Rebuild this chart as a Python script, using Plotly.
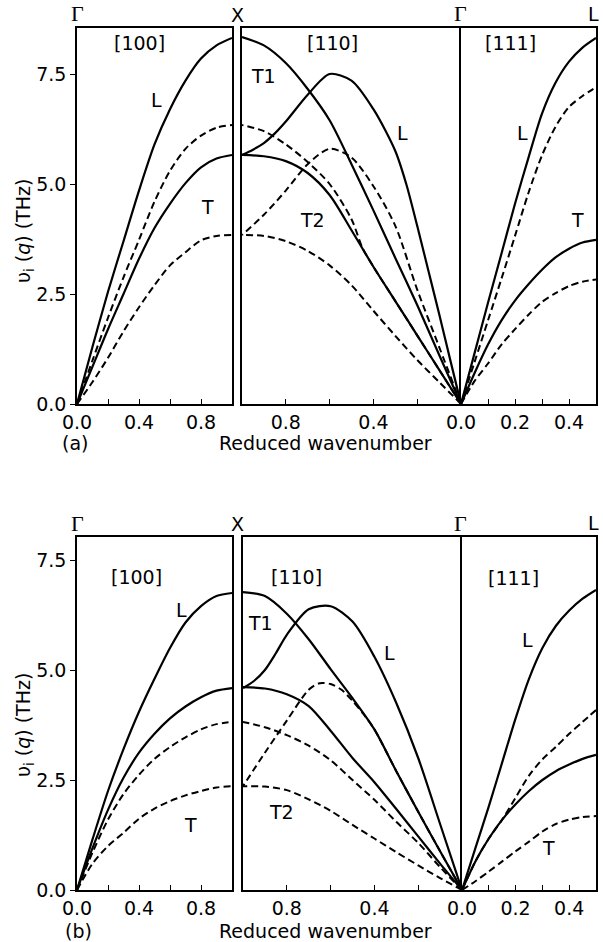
import plotly.graph_objects as go

# ---------------- data ----------------
Q10 = [0.0, 0.1, 0.2, 0.3, 0.4, 0.5, 0.6, 0.7, 0.8, 0.9, 1.0]
Q5 = [0.0, 0.05, 0.1, 0.15, 0.2, 0.25, 0.3, 0.35, 0.4, 0.45, 0.5]

# panel (a) [100]
a100_L = [0, 1.3, 2.55, 3.7, 4.85, 5.9, 6.7, 7.35, 7.85, 8.15, 8.32]
a100_Ld = [0, 0.99, 1.96, 2.88, 3.73, 4.6, 5.3, 5.8, 6.1, 6.28, 6.34]
a100_T = [0, 0.85, 1.7, 2.5, 3.3, 4.0, 4.55, 5.02, 5.38, 5.58, 5.66]
a100_Td = [0, 0.5, 1.05, 1.65, 2.2, 2.7, 3.15, 3.45, 3.72, 3.82, 3.84]
# panel (a) [110]
a110_T1 = [0, 1.12, 2.25, 3.32, 4.4, 5.45, 6.45, 7.16, 7.75, 8.15, 8.34]
a110_L_q = [0, 0.05, 0.1, 0.15, 0.2, 0.25, 0.3, 0.4, 0.5, 0.6, 0.7, 0.8, 0.85, 0.9, 0.95, 1.0]
a110_L = [0, 1.02, 2.05, 3.05, 4.05, 5.0, 5.75, 6.7, 7.35, 7.5, 7.03, 6.42, 6.15, 5.93, 5.78, 5.66]
a110_T2 = [0, 0.78, 1.56, 2.34, 3.12, 3.95, 4.75, 5.25, 5.52, 5.63, 5.66]
a110_T1d_q = [0, 0.1, 0.2, 0.3, 0.4, 0.45, 0.5, 0.6, 0.7, 0.8, 0.9, 1.0]
a110_T1d = [0, 0.78, 1.56, 2.34, 3.12, 3.55, 4.2, 5.0, 5.5, 5.9, 6.2, 6.34]
a110_Ld = [0, 1.3, 2.6, 4.05, 4.95, 5.6, 5.8, 5.45, 4.85, 4.3, 3.84]
a110_T2d = [0, 0.5, 1.0, 1.55, 2.12, 2.7, 3.15, 3.48, 3.7, 3.82, 3.84]
# panel (a) [111]
a111_L = [0, 1.15, 2.3, 3.42, 4.55, 5.6, 6.6, 7.3, 7.78, 8.1, 8.32]
a111_Ld = [0, 0.95, 1.9, 2.85, 3.82, 4.8, 5.65, 6.3, 6.75, 7.0, 7.2]
a111_T = [0, 0.7, 1.35, 1.9, 2.35, 2.72, 3.05, 3.33, 3.53, 3.67, 3.73]
a111_Td = [0, 0.52, 0.92, 1.35, 1.7, 2.03, 2.32, 2.52, 2.68, 2.78, 2.83]

# panel (b) [100]
b100_L = [0, 1.15, 2.25, 3.2, 4.05, 4.8, 5.5, 6.08, 6.45, 6.68, 6.75]
b100_Ld = [0, 0.85, 1.6, 2.18, 2.62, 2.98, 3.25, 3.47, 3.65, 3.77, 3.82]
b100_T = [0, 0.95, 1.82, 2.55, 3.12, 3.55, 3.9, 4.17, 4.38, 4.53, 4.59]
b100_Td = [0, 0.6, 1.0, 1.3, 1.62, 1.85, 2.02, 2.15, 2.25, 2.33, 2.36]
# panel (b) [110]
b110_T1 = [0, 0.88, 1.78, 2.7, 3.65, 4.36, 5.02, 5.7, 6.28, 6.68, 6.77]
b110_L_q = [0, 0.1, 0.2, 0.3, 0.4, 0.5, 0.6, 0.7, 0.8, 0.85, 0.9, 0.95, 1.0]
b110_L = [0, 1.5, 3.0, 4.25, 5.3, 6.1, 6.45, 6.38, 5.8, 5.38, 5.0, 4.75, 4.59]
b110_T2 = [0, 0.6, 1.22, 1.84, 2.45, 3.0, 3.62, 4.18, 4.45, 4.58, 4.61]
b110_T1d = [0, 0.52, 1.07, 1.55, 2.05, 2.5, 2.95, 3.28, 3.52, 3.7, 3.82]
b110_Ld_q = [0, 0.1, 0.2, 0.3, 0.4, 0.45, 0.5, 0.55, 0.6, 0.65, 0.7, 0.8, 0.9, 1.0]
b110_Ld = [0, 0.88, 1.78, 2.7, 3.65, 4.0, 4.3, 4.55, 4.68, 4.7, 4.55, 3.85, 3.12, 2.36]
b110_T2d = [0, 0.27, 0.56, 0.86, 1.17, 1.48, 1.8, 2.06, 2.27, 2.35, 2.36]
# panel (b) [111]
b111_L = [0, 0.95, 1.9, 2.9, 3.9, 4.8, 5.5, 6.0, 6.35, 6.62, 6.82]
b111_Ld = [0, 0.65, 1.17, 1.6, 2.1, 2.6, 2.97, 3.25, 3.55, 3.82, 4.09]
b111_T = [0, 0.65, 1.17, 1.6, 1.95, 2.25, 2.5, 2.7, 2.85, 2.98, 3.07]
b111_Td = [0, 0.2, 0.42, 0.65, 0.88, 1.1, 1.33, 1.5, 1.6, 1.66, 1.68]

X100_TICKS = [0.0, 0.4, 0.8]
X100_MINOR = [0.2, 0.6]
X110_TICKS = [0.4, 0.8]
X110_MINOR = [0.2, 0.6]
X111_TICKS = [0.0, 0.2, 0.4]
X111_MINOR = [0.1, 0.3]
Y_TICKS = [0.0, 2.5, 5.0, 7.5]

# ---------------- layout geometry ----------------
W, H = 603, 942
FONT = "DejaVu Sans"
FS = 19


def fx(p):
    return p / W


def fy(p):
    return 1 - p / H


panels = [
    dict(xd=[(77, 232), (242, 461), (461, 596)], yd=(28, 404), ytop=(404 - 28) / 44.0),
    dict(xd=[(77, 232), (243, 462), (462, 596)], yd=(537, 890), ytop=(890 - 537) / 44.0),
]

fig = go.Figure()
layout = dict(
    width=W, height=H, margin=dict(l=0, r=0, t=0, b=0, pad=0, autoexpand=False),
    paper_bgcolor="white", plot_bgcolor="white", showlegend=False,
    font=dict(family=FONT, size=FS, color="black"),
)

sec_ticks = [(X100_TICKS, X100_MINOR, [0, 1]), (X110_TICKS, X110_MINOR, [1, 0]),
             (X111_TICKS, X111_MINOR, [0, 0.5])]

for pi, pan in enumerate(panels):
    for si in range(3):
        n = pi * 3 + si + 1
        xs = "" if n == 1 else str(n)
        tv, mv, rng = sec_ticks[si]
        x0, x1 = pan["xd"][si]
        layout["xaxis" + xs] = dict(
            domain=[fx(x0), fx(x1)], anchor="y" + xs, range=rng, automargin=False,
            showline=True, mirror=True, linecolor="black", linewidth=1.6,
            ticks="inside", ticklen=5, tickwidth=1.3, tickcolor="black",
            tickvals=tv, ticktext=["%.1f" % v for v in tv],
            minor=dict(tickvals=mv, ticks="inside", ticklen=5, tickwidth=1.3,
                       tickcolor="black", showgrid=False),
            showgrid=False, zeroline=False,
            tickfont=dict(family=FONT, size=FS),
        )
        ya = dict(
            domain=[fy(pan["yd"][1]), fy(pan["yd"][0])], anchor="x" + xs,
            range=[0, pan["ytop"]], showline=True, mirror=(si != 1), automargin=False,
            linecolor="black", linewidth=1.6, showgrid=False, zeroline=False,
        )
        if si == 0:
            ya.update(ticks="outside", ticklen=5, tickwidth=1.3, tickcolor="black",
                      tickvals=Y_TICKS, ticktext=["%.1f" % v for v in Y_TICKS],
                      tickfont=dict(family=FONT, size=FS))
        else:
            ya.update(showticklabels=False, ticks="")
        layout["yaxis" + xs] = ya


def add(n, q, v, dashed):
    xs = "" if n == 1 else str(n)
    fig.add_trace(go.Scatter(
        x=q, y=v, mode="lines", xaxis="x" + xs, yaxis="y" + xs,
        line=dict(color="black", width=2.2 if not dashed else 2.0,
                  dash="7px,4px" if dashed else "solid",
                  shape="spline", smoothing=0.8),
        hoverinfo="skip"))


# panel a
add(1, Q10, a100_L, False); add(1, Q10, a100_T, False)
add(1, Q10, a100_Ld, True); add(1, Q10, a100_Td, True)
add(2, Q10, a110_T1, False); add(2, a110_L_q, a110_L, False); add(2, Q10, a110_T2, False)
add(2, a110_T1d_q, a110_T1d, True); add(2, Q10, a110_Ld, True); add(2, Q10, a110_T2d, True)
add(3, Q5, a111_L, False); add(3, Q5, a111_T, False)
add(3, Q5, a111_Ld, True); add(3, Q5, a111_Td, True)
# panel b
add(4, Q10, b100_L, False); add(4, Q10, b100_T, False)
add(4, Q10, b100_Ld, True); add(4, Q10, b100_Td, True)
add(5, Q10, b110_T1, False); add(5, b110_L_q, b110_L, False); add(5, Q10, b110_T2, False)
add(5, Q10, b110_T1d, True); add(5, b110_Ld_q, b110_Ld, True); add(5, Q10, b110_T2d, True)
add(6, Q5, b111_L, False); add(6, Q5, b111_T, False)
add(6, Q5, b111_Ld, True); add(6, Q5, b111_Td, True)

ann = []


def lab(text, n, x, y, size=FS, family=FONT):
    xs = "" if n == 1 else str(n)
    ann.append(dict(text=text, x=x, y=y, xref="x" + xs, yref="y" + xs,
                    xanchor="center", yanchor="middle",
                    showarrow=False, font=dict(family=family, size=size, color="black")))


def plab(text, px, py, size=FS, family=FONT, angle=0):
    ann.append(dict(text=text, x=fx(px), y=fy(py), xref="paper", yref="paper",
                    xanchor="center", yanchor="middle",
                    showarrow=False, textangle=angle,
                    font=dict(family=family, size=size, color="black")))


# panel a curve labels
lab("[100]", 1, 0.406, 8.2); lab("L", 1, 0.516, 6.91); lab("T", 1, 0.839, 4.48)
lab("[110]", 2, 0.589, 8.2); lab("T1", 2, 0.904, 7.45); lab("L", 2, 0.265, 6.16)
lab("T2", 2, 0.676, 4.18)
lab("[111]", 3, 0.185, 8.2); lab("L", 3, 0.226, 6.16); lab("T", 3, 0.43, 4.18)
# panel b curve labels
lab("[100]", 4, 0.387, 7.11); lab("L", 4, 0.677, 6.36); lab("T", 4, 0.729, 1.48)
lab("[110]", 5, 0.758, 7.11); lab("T1", 5, 0.922, 6.07); lab("L", 5, 0.329, 5.39)
lab("T2", 5, 0.822, 1.77)
lab("[111]", 6, 0.194, 7.09); lab("L", 6, 0.246, 5.68); lab("T", 6, 0.321, 0.95)

# symmetry points
for (py) in (14, 523):
    plab("Γ", 77, py, size=22, family="Liberation Serif")
    plab("X", 237, py + 1, size=FS)
    plab("Γ", 460, py, size=22, family="Liberation Serif")
    plab("L", 593, py, size=FS)

# axis titles and panel tags
plab("Reduced wavenumber", 325, 443, size=FS)
plab("Reduced wavenumber", 325, 931, size=FS)
plab("(a)", 75, 443, size=FS)
plab("(b)", 78, 931, size=FS)
plab("υ<sub>i</sub> (<i>q</i>) (THz)", 24, 231, size=FS, angle=-90)
plab("υ<sub>i</sub> (<i>q</i>) (THz)", 24, 725, size=FS, angle=-90)

layout["annotations"] = ann
fig.update_layout(**layout)
fig.write_html("out.html", config={"displayModeBar": False},
               post_script="document.body.style.margin='0px';")
